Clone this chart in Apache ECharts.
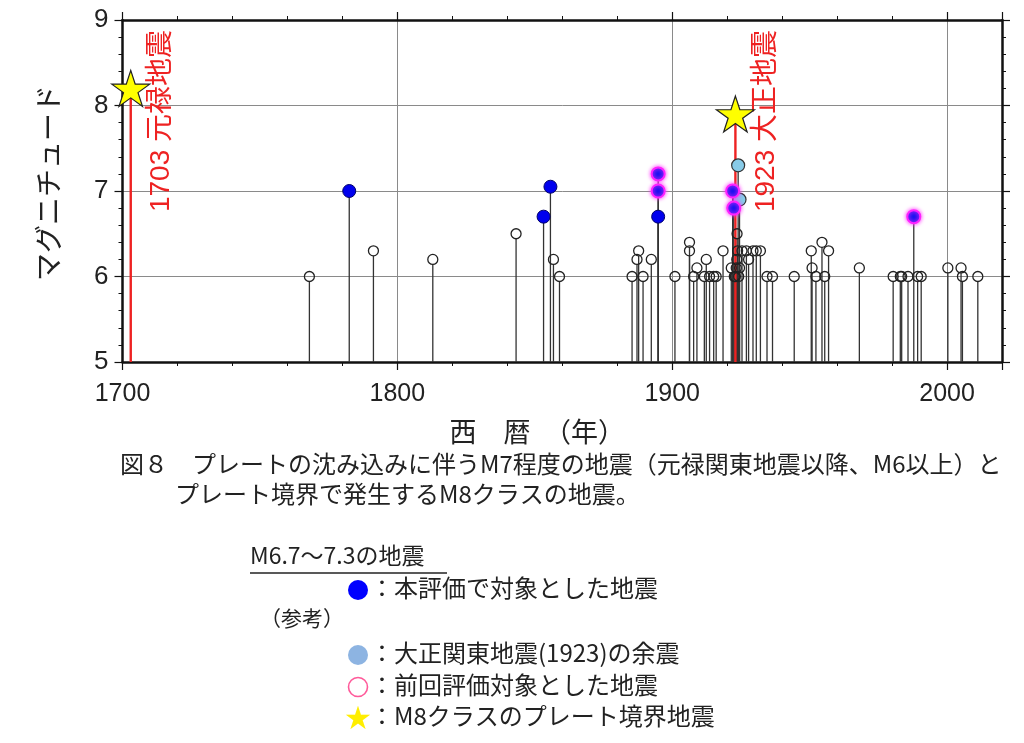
<!DOCTYPE html>
<html>
<head>
<meta charset="utf-8">
<script src="https://cdn.jsdelivr.net/npm/echarts@6/dist/echarts.min.js"></script>
<style>
  html, body { margin: 0; padding: 0; background: #fff; }
  #chart { width: 1024px; height: 743px; }
</style>
</head>
<body>
<div id="chart"></div>
<script>
// M6+ events (open circles)
const openYears = [1768, 1791.3, 1812.9, 1843.2, 1856.8, 1859, 1885.4, 1887.2, 1887.8, 1889.4, 1892.4, 1901,
  1906.3, 1906.3, 1907.8, 1909, 1911.7, 1912.4, 1913.6, 1915.1, 1916, 1918.5,
  1921.5, 1922.6, 1923, 1923.3, 1923.5, 1923.6, 1923.8, 1924.2, 1924.5,
  1925.4, 1927, 1927.8, 1929.4, 1930.6, 1932.1, 1934.5, 1936.5, 1944.4,
  1950.6, 1950.9, 1952.3, 1954.5, 1955.5, 1956.9, 1968.1,
  1980.4, 1983, 1983.5, 1985.8, 1989.3, 1990.6, 2000.3, 2005.1, 2005.6, 2011.2];
const openMags = [6.0, 6.3, 6.2, 6.5, 6.2, 6.0, 6.0, 6.2, 6.3, 6.0, 6.2, 6.0,
  6.4, 6.3, 6.0, 6.1, 6.0, 6.2, 6.0, 6.0, 6.0, 6.3,
  6.1, 6.0, 6.0, 6.1, 6.2, 6.5, 6.3, 6.0, 6.1,
  6.3, 6.3, 6.2, 6.3, 6.3, 6.3, 6.0, 6.0, 6.0,
  6.3, 6.1, 6.0, 6.4, 6.0, 6.3, 6.1,
  6.0, 6.0, 6.0, 6.0, 6.0, 6.0, 6.1, 6.1, 6.0, 6.0];

// M6.7-7.3 evaluated this time (blue)
const targetYears = [1782.5, 1853.2, 1855.7, 1894.9];
const targetMags = [7.0, 6.7, 7.05, 6.7];

// also evaluated last time (blue with magenta ring)
const prevYears = [1894.9, 1894.9, 1922, 1922.4, 1987.9];
const prevMags = [7.0, 7.2, 7.0, 6.8, 6.7];

// aftershocks of 1923 (light blue)
const afterYears = [1924, 1924.5];
const afterMags = [7.3, 6.9];

// M8 class plate boundary quakes
const m8Years = [1703, 1923];
const m8Mags = [8.2, 7.9];
const m8Labels = ['1703 元禄地震', '1923 大正地震'];

const xTicks = [1700, 1800, 1900, 2000];
const yMin = 5, yMax = 9;

const pairs = (xs, ys) => xs.map((x, i) => [x, ys[i]]);
const stemData = [].concat(
  pairs(openYears, openMags),
  pairs(targetYears, targetMags),
  pairs(prevYears, prevMags),
  pairs(afterYears, afterMags)
);

const starPath = 'path://M50,0 L61.2,34.5 L97.6,34.5 L68.2,55.9 L79.4,90.5 L50,69.1 L20.6,90.5 L31.8,55.9 L2.4,34.5 L38.8,34.5 Z';
const sans = "'Liberation Sans', 'Noto Sans CJK JP', sans-serif";
const jp = "'Noto Sans CJK JP', sans-serif";
const red = '#ee2222';

const chart = echarts.init(document.getElementById('chart'));

const frameAxis = {
  axisLine: { show: true, lineStyle: { color: '#111', width: 2.5 } },
  axisTick: { show: true, length: 8, lineStyle: { color: '#111', width: 1.2 } },
  minorTick: { show: true, splitNumber: 5, length: 4, lineStyle: { color: '#111', width: 1 } },
};

chart.setOption({
  animation: false,
  grid: { left: 122.5, right: 22, top: 20, bottom: 381 },
  xAxis: [
    Object.assign({
      type: 'value', min: 1700, max: 2020, interval: 100, position: 'bottom',
      axisLabel: {
        fontSize: 25, color: '#222', fontFamily: sans, margin: 20,
        formatter: (v) => (xTicks.includes(v) ? String(v) : ''),
      },
      splitLine: { show: true, lineStyle: { color: '#8a8a8a', width: 1 } },
      name: '西　暦　（年）', nameLocation: 'middle', nameGap: 56,
      nameTextStyle: { fontSize: 27, color: '#222', fontFamily: jp, padding: [0, 50, 0, 0] },
    }, frameAxis),
    Object.assign({
      type: 'value', min: 1700, max: 2020, interval: 100, position: 'top',
      axisLabel: { show: false }, splitLine: { show: false },
    }, frameAxis),
  ],
  yAxis: [
    Object.assign({
      type: 'value', min: yMin, max: yMax, interval: 1, position: 'left',
      axisLabel: { fontSize: 26, color: '#222', fontFamily: sans, margin: 14 },
      splitLine: { show: true, lineStyle: { color: '#8a8a8a', width: 1 } },
      name: 'マグニチュード', nameLocation: 'middle', nameGap: 60, nameRotate: 90,
      nameTextStyle: { fontSize: 28, color: '#222', fontFamily: jp, padding: [0, 0, 0, 16] },
    }, frameAxis),
    Object.assign({
      type: 'value', min: yMin, max: yMax, interval: 1, position: 'right',
      axisLabel: { show: false }, splitLine: { show: false },
    }, frameAxis),
  ],
  series: [
    {
      // black stems from M5 up to each event (stop at the circle's bottom)
      type: 'custom', z: 2,
      data: stemData,
      renderItem(params, api) {
        const top = api.coord([api.value(0), api.value(1)]);
        const base = api.coord([api.value(0), yMin]);
        return {
          type: 'line',
          shape: { x1: top[0], y1: top[1] + 5, x2: base[0], y2: base[1] },
          style: { stroke: '#333', lineWidth: 1.3 },
        };
      },
    },
    {
      // red lines and labels for M8 events
      type: 'custom', z: 3,
      data: pairs(m8Years, m8Mags),
      renderItem(params, api) {
        const top = api.coord([api.value(0), api.value(1)]);
        const base = api.coord([api.value(0), yMin]);
        const ceil = api.coord([api.value(0), yMax]);
        return {
          type: 'group',
          children: [
            {
              type: 'line',
              shape: { x1: top[0], y1: top[1], x2: base[0], y2: base[1] },
              style: { stroke: red, lineWidth: 2.4 },
            },
            {
              type: 'text',
              x: top[0] + 31, y: ceil[1] + 10,
              rotation: Math.PI / 2,
              style: {
                text: m8Labels[params.dataIndex],
                fill: red, fontSize: 28, fontFamily: sans,
                align: 'right', verticalAlign: 'middle',
              },
            },
          ],
        };
      },
    },
    {
      type: 'scatter', z: 4, symbol: 'circle', symbolSize: 10,
      data: pairs(openYears, openMags),
      itemStyle: { color: 'rgba(255,255,255,0)', borderColor: '#222', borderWidth: 1.3, opacity: 1 },
    },
    {
      type: 'scatter', z: 5, symbol: 'circle', symbolSize: 13,
      data: pairs(targetYears, targetMags),
      itemStyle: { color: '#0000ee', borderColor: '#00006a', borderWidth: 1, opacity: 1 },
    },
    {
      type: 'scatter', z: 5, symbol: 'circle', symbolSize: 13,
      data: pairs(afterYears, afterMags),
      itemStyle: { color: '#88cbe8', borderColor: '#333', borderWidth: 1.2, opacity: 1 },
    },
    {
      type: 'scatter', z: 6, symbol: 'circle', symbolSize: 13,
      data: pairs(prevYears, prevMags),
      itemStyle: {
        color: '#1a10f0', borderColor: '#ff22ff', borderWidth: 2,
        shadowBlur: 4, shadowColor: '#ff33ff', opacity: 1,
      },
    },
    {
      type: 'scatter', z: 7, symbol: starPath, symbolSize: [38, 36],
      data: pairs(m8Years, m8Mags),
      itemStyle: { color: '#ffff00', borderColor: '#222', borderWidth: 1.2, opacity: 1 },
    },
  ],
  graphic: [
    {
      type: 'text', left: 120, top: 452,
      style: {
        text: '図８　プレートの沈み込みに伴うM7程度の地震（元禄関東地震以降、M6以上）と',
        fontSize: 24, fill: '#222', fontFamily: jp,
      },
    },
    {
      type: 'text', left: 175, top: 482,
      style: {
        text: 'プレート境界で発生するM8クラスの地震。',
        fontSize: 24, fill: '#222', fontFamily: jp, letterSpacing: 1.5,
      },
    },
    {
      type: 'text', left: 250, top: 544,
      style: { text: 'M6.7〜7.3の地震', fontSize: 23, fill: '#222', fontFamily: jp },
    },
    {
      type: 'line', shape: { x1: 250, y1: 573, x2: 447, y2: 573 },
      style: { stroke: '#222', lineWidth: 1.5 },
    },
    { type: 'circle', shape: { cx: 358, cy: 590, r: 10 }, style: { fill: '#0000ff' } },
    {
      type: 'text', left: 370, top: 576,
      style: { text: '：本評価で対象とした地震', fontSize: 24, fill: '#222', fontFamily: jp },
    },
    {
      type: 'text', left: 260, top: 608,
      style: { text: '（参考）', fontSize: 21, fill: '#222', fontFamily: jp },
    },
    { type: 'circle', shape: { cx: 358, cy: 655, r: 10 }, style: { fill: '#8db4e2' } },
    {
      type: 'text', left: 370, top: 641,
      style: { text: '：大正関東地震(1923)の余震', fontSize: 24, fill: '#222', fontFamily: jp },
    },
    {
      type: 'circle', shape: { cx: 358, cy: 687, r: 9.5 },
      style: { fill: 'none', stroke: '#ff5a9a', lineWidth: 1.6 },
    },
    {
      type: 'text', left: 370, top: 673,
      style: { text: '：前回評価対象とした地震', fontSize: 24, fill: '#222', fontFamily: jp },
    },
    {
      type: 'text', left: 345, top: 704,
      style: { text: '★', fontSize: 26, fill: '#ffee00', fontFamily: jp },
    },
    {
      type: 'text', left: 370, top: 704,
      style: { text: '：M8クラスのプレート境界地震', fontSize: 24, fill: '#222', fontFamily: jp },
    },
  ],
});
</script>
</body>
</html>
